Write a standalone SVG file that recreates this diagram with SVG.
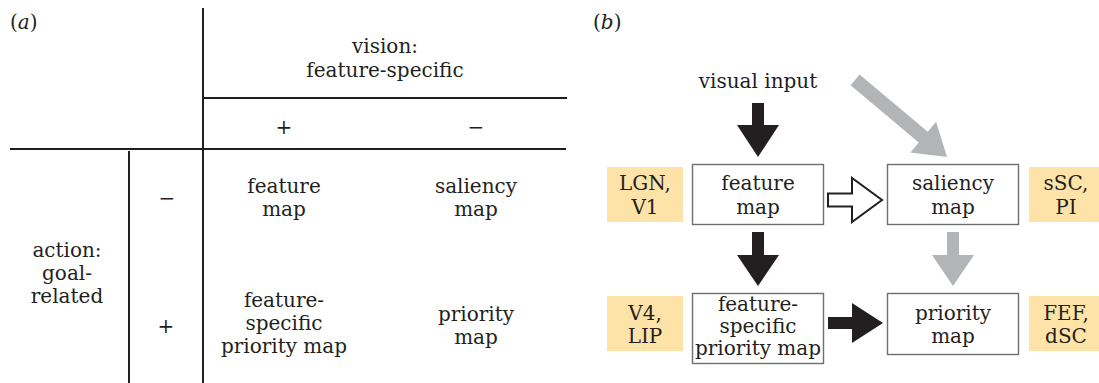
<svg xmlns="http://www.w3.org/2000/svg" width="1099" height="383" viewBox="0 0 1099 383">
  <style>
    text { font-family: "DejaVu Serif", "Liberation Serif", serif; font-size: 20px; fill: #231f20; text-anchor: middle; }
    .lbl { text-anchor: start; }
    .grid { stroke: #231f20; stroke-width: 2; fill: none; }
    .box { fill: #ffffff; stroke: #6d6e70; stroke-width: 1.4; }
    .area { fill: #fde3a8; stroke: none; }
    .blk { fill: #231f20; }
    .gry { fill: #b3b4b6; }
    .hol { fill: #ffffff; stroke: #231f20; stroke-width: 2; stroke-linejoin: miter; }
  </style>
  <rect width="1099" height="383" fill="#ffffff"/>

  <!-- Panel (a): table -->
  <g id="panel-a">
    <text class="lbl" x="10" y="29">(<tspan font-style="italic">a</tspan>)</text>
    <g id="table-lines">
      <line class="grid" x1="203" y1="8" x2="203" y2="383"/>
      <line class="grid" x1="203" y1="98" x2="567" y2="98"/>
      <line class="grid" x1="10" y1="149" x2="566" y2="149"/>
      <line class="grid" x1="129" y1="151" x2="129" y2="383"/>
    </g>
    <g id="header-vision">
      <text x="385" y="53">vision:</text>
      <text x="385" y="77">feature-specific</text>
    </g>
    <g id="col-plus"><text x="284" y="134">+</text></g>
    <g id="col-minus"><text x="476" y="134">−</text></g>
    <g id="header-action">
      <text x="67" y="257">action:</text>
      <text x="67" y="280">goal-</text>
      <text x="67" y="303">related</text>
    </g>
    <g id="row-minus"><text x="167" y="205">−</text></g>
    <g id="row-plus"><text x="166" y="333">+</text></g>
    <g id="cell-feature-map">
      <text x="284" y="193">feature</text>
      <text x="284" y="216">map</text>
    </g>
    <g id="cell-saliency-map">
      <text x="476" y="193">saliency</text>
      <text x="476" y="216">map</text>
    </g>
    <g id="cell-fs-priority-map">
      <text x="284" y="307">feature-</text>
      <text x="284" y="330">specific</text>
      <text x="284" y="353">priority map</text>
    </g>
    <g id="cell-priority-map">
      <text x="476" y="321">priority</text>
      <text x="476" y="344">map</text>
    </g>
  </g>

  <!-- Panel (b): flow diagram -->
  <text class="lbl" x="593" y="29">(<tspan font-style="italic">b</tspan>)</text>

  <g id="visual-input"><text x="758" y="88">visual input</text></g>

  <g id="area-lgn-v1">
    <rect class="area" x="607" y="167" width="76" height="55"/>
    <text x="645" y="190">LGN,</text>
    <text x="645" y="214">V1</text>
  </g>
  <g id="feature-map">
    <rect class="box" x="692.5" y="164.5" width="131" height="60"/>
    <text x="758" y="190">feature</text>
    <text x="758" y="214">map</text>
  </g>
  <g id="saliency-map">
    <rect class="box" x="887.5" y="164.5" width="131" height="60"/>
    <text x="953" y="190">saliency</text>
    <text x="953" y="214">map</text>
  </g>
  <g id="area-ssc-pi">
    <rect class="area" x="1029" y="167" width="70" height="55"/>
    <text x="1066" y="190">sSC,</text>
    <text x="1066" y="214">PI</text>
  </g>

  <g id="area-v4-lip">
    <rect class="area" x="607" y="296" width="76" height="55"/>
    <text x="645" y="320">V4,</text>
    <text x="645" y="343">LIP</text>
  </g>
  <g id="fs-priority-map">
    <rect class="box" x="692.5" y="293.5" width="131" height="70"/>
    <text x="758" y="311">feature-</text>
    <text x="758" y="333">specific</text>
    <text x="758" y="355">priority map</text>
  </g>
  <g id="priority-map">
    <rect class="box" x="887.5" y="293.5" width="131" height="61"/>
    <text x="953" y="320">priority</text>
    <text x="953" y="343">map</text>
  </g>
  <g id="area-fef-dsc">
    <rect class="area" x="1029" y="296" width="70" height="55"/>
    <text x="1066" y="320">FEF,</text>
    <text x="1066" y="343">dSC</text>
  </g>

  <g id="connectors">
    <polygon class="blk" points="752,103 764,103 764,125 779,125 758,157 737,125 752,125"/>
    <polygon class="gry" transform="translate(947,157) rotate(40)" points="-120,-7 -31,-7 -31,-20 0,0 -31,20 -31,7 -120,7"/>
    <polygon class="hol" points="828,193.5 852,193.5 852,178 882,200 852,222 852,206.5 828,206.5"/>
    <polygon class="blk" points="752,232 764,232 764,255 779,255 758,286 737,255 752,255"/>
    <polygon class="gry" points="947,232 959,232 959,255 974,255 953,286 932,255 947,255"/>
    <polygon class="blk" points="828,317 852,317 852,303 883,323 852,343 852,329 828,329"/>
  </g>
</svg>
